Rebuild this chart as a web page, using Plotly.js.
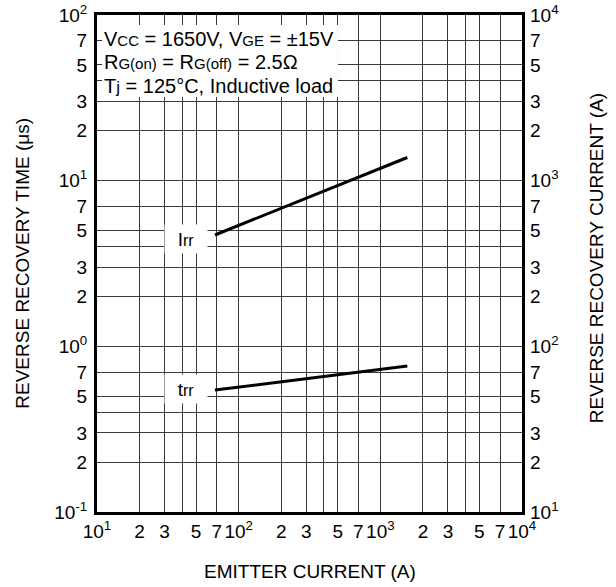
<!DOCTYPE html>
<html>
<head>
<meta charset="utf-8">
<script src="https://cdn.plot.ly/plotly-3.0.1.min.js"></script>
<style>html,body{margin:0;padding:0;background:#fff;}#chart{width:616px;height:587px;}</style>
</head>
<body>
<div id="chart"></div>
<script>
// ---- Data ----
const emitterCurrent = [68, 1550];          // A
const trrValues = [0.545, 0.76];            // μs (left axis)
const irrValues = [470, 1380];              // A (right axis)

const xTickVals = [10,20,30,40,50,70,100,200,300,400,500,700,1000,2000,3000,4000,5000,7000,10000];
const xTickText = ["10<sup>1</sup>","2","3","","5","7","10<sup>2</sup>","2","3","","5","7","10<sup>3</sup>","2","3","","5","7","10<sup>4</sup>"];

const yTickVals = [0.1,0.2,0.3,0.4,0.5,0.7,1,2,3,4,5,7,10,20,30,40,50,70,100];
const yTickText = ["10<sup>-1</sup>","2","3","","5","7","10<sup>0</sup>","2","3","","5","7","10<sup>1</sup>","2","3","","5","7","10<sup>2</sup>"];

const y2TickVals = [10,20,30,50,70,100,200,300,500,700,1000,2000,3000,5000,7000,10000];
const y2TickText = ["10<sup>1</sup>","2","3","5","7","10<sup>2</sup>","2","3","5","7","10<sup>3</sup>","2","3","5","7","10<sup>4</sup>"];

const conditionLines = [
  "V<span style='font-size:15px'>CC</span> = 1650V, V<span style='font-size:15px'>GE</span> = ±15V",
  "R<span style='font-size:15px'>G(on)</span> = R<span style='font-size:15px'>G(off)</span> = 2.5Ω",
  "T<span style='font-size:17px'>j</span> = 125°C, Inductive load"
];

const FONT = "Liberation Sans, Arial, Helvetica, sans-serif";

const traces = [
  {x: emitterCurrent, y: trrValues, type: 'scatter', mode: 'lines',
   line: {color: '#000', width: 3}, xaxis: 'x', yaxis: 'y', hoverinfo: 'skip'},
  {x: emitterCurrent, y: irrValues, type: 'scatter', mode: 'lines',
   line: {color: '#000', width: 3}, xaxis: 'x', yaxis: 'y2', hoverinfo: 'skip'}
];

const gridColor = '#3a3a3a';

const layout = {
  width: 616, height: 587,
  margin: {l: 97, r: 94, t: 15, b: 75},
  paper_bgcolor: '#fff', plot_bgcolor: '#fff',
  showlegend: false,
  font: {family: FONT, size: 19, color: '#000'},
  xaxis: {
    type: 'log', range: [1, 4], tickmode: 'array', tickvals: xTickVals, ticktext: xTickText,
    showgrid: true, gridcolor: gridColor, gridwidth: 1, zeroline: false,
    showline: true, linecolor: '#000', linewidth: 3, mirror: true, ticks: '',
    tickfont: {family: FONT, size: 19, color: '#000'}, automargin: false
  },
  yaxis: {
    type: 'log', range: [-1, 2], tickmode: 'array', tickvals: yTickVals, ticktext: yTickText,
    showgrid: true, gridcolor: gridColor, gridwidth: 1, zeroline: false,
    showline: true, linecolor: '#000', linewidth: 3, mirror: true, ticks: '',
    ticklabelstandoff: 3,
    tickfont: {family: FONT, size: 19, color: '#000'}, automargin: false
  },
  yaxis2: {
    type: 'log', range: [1, 4], tickmode: 'array', tickvals: y2TickVals, ticktext: y2TickText,
    overlaying: 'y', side: 'right', showgrid: false, zeroline: false, showline: false, ticks: '',
    ticklabelstandoff: 7,
    tickfont: {family: FONT, size: 19, color: '#000'}, automargin: false
  },
  shapes: [
    {type: 'rect', xref: 'paper', yref: 'paper', x0: 0.012, x1: 0.567, y0: 0.835, y1: 0.980,
     fillcolor: '#fff', line: {width: 0}, layer: 'above'}
  ],
  annotations: [
    {text: conditionLines[0], xref: 'paper', yref: 'paper', x: 0.012, y: 0.952, xanchor: 'left', yanchor: 'middle', showarrow: false, font: {family: FONT, size: 20, color: '#000'}},
    {text: conditionLines[1], xref: 'paper', yref: 'paper', x: 0.012, y: 0.905, xanchor: 'left', yanchor: 'middle', showarrow: false, font: {family: FONT, size: 20, color: '#000'}},
    {text: conditionLines[2], xref: 'paper', yref: 'paper', x: 0.012, y: 0.857, xanchor: 'left', yanchor: 'middle', showarrow: false, font: {family: FONT, size: 20, color: '#000'}},
    {text: "I<span style='font-size:16px'>rr</span>", xref: 'paper', yref: 'paper', x: 0.2094, y: 0.549, xanchor: 'center', yanchor: 'middle',
     showarrow: false, bgcolor: '#fff', width: 40, height: 26, font: {family: FONT, size: 19, color: '#000'}},
    {text: "t<span style='font-size:16px'>rr</span>", xref: 'paper', yref: 'paper', x: 0.2094, y: 0.2475, xanchor: 'center', yanchor: 'middle',
     showarrow: false, bgcolor: '#fff', width: 40, height: 26, font: {family: FONT, size: 19, color: '#000'}},
    {text: "EMITTER CURRENT (A)", xref: 'paper', yref: 'paper', x: 0.5, y: -0.119, xanchor: 'center', yanchor: 'middle',
     showarrow: false, font: {family: FONT, size: 19, color: '#000'}},
    {text: "REVERSE RECOVERY TIME (μs)", xref: 'paper', yref: 'paper', x: -0.176, y: 0.5, xanchor: 'center', yanchor: 'middle',
     textangle: -90, showarrow: false, font: {family: FONT, size: 19, color: '#000'}},
    {text: "REVERSE RECOVERY CURRENT (A)", xref: 'paper', yref: 'paper', x: 1.176, y: 0.51, xanchor: 'center', yanchor: 'middle',
     textangle: -90, showarrow: false, font: {family: FONT, size: 19, color: '#000'}}
  ]
};

Plotly.newPlot('chart', traces, layout, {staticPlot: true, displayModeBar: false});
</script>
</body>
</html>
